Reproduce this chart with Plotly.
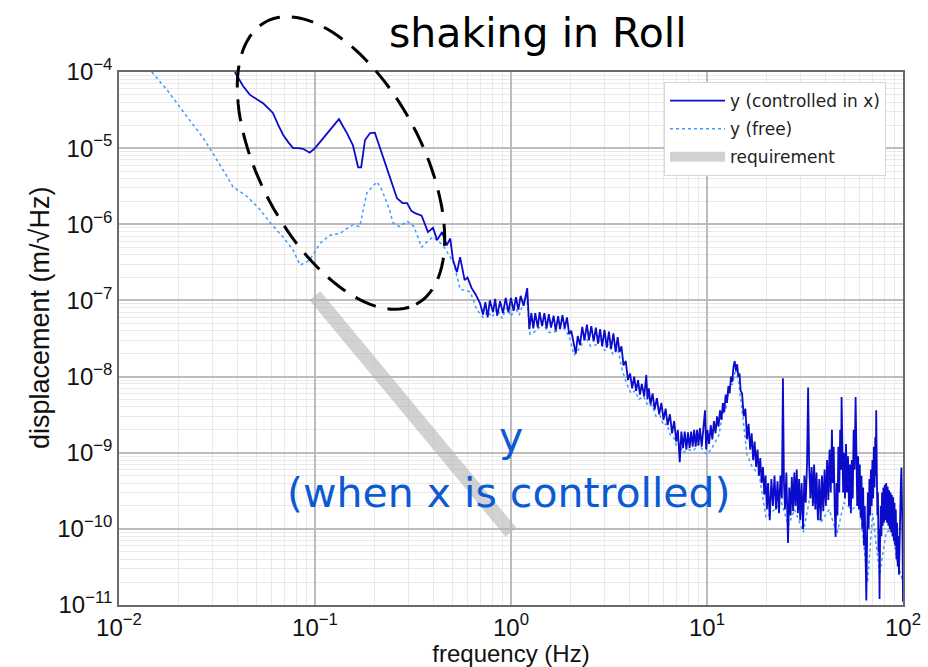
import numpy as np
import plotly.graph_objects as go

# ---- displacement spectra (frequency in Hz, displacement in m/sqrt(Hz)) ----
ctrl_freq = [
    0.039, 0.043, 0.0466, 0.050, 0.0543, 0.058, 0.061, 0.065, 0.0687, 0.073,
    0.0773, 0.082, 0.087, 0.094, 0.100, 0.106, 0.118, 0.1325, 0.145, 0.156,
    0.166, 0.172, 0.18, 0.191, 0.202, 0.215, 0.233, 0.248, 0.262, 0.28,
    0.295, 0.31, 0.324, 0.35, 0.365, 0.377, 0.40, 0.42, 0.445, 0.47,
    0.49, 0.506, 0.53, 0.55, 0.58, 0.60, 0.63, 0.66, 0.695, 0.72,
    0.74, 0.76, 0.78, 0.81, 0.83, 0.85, 0.88, 0.91, 0.94, 0.97,
    1.0, 1.03, 1.06, 1.09, 1.12, 1.16, 1.21, 1.24, 1.27, 1.30,
    1.33, 1.37, 1.40, 1.44, 1.48, 1.52, 1.56, 1.60, 1.65, 1.69,
    1.74, 1.78, 1.83, 1.88, 1.93, 1.98, 2.03, 2.09, 2.14, 2.19,
    2.25, 2.31, 2.37, 2.44, 2.50, 2.57, 2.64, 2.71, 2.78, 2.85,
    2.92, 3.0, 3.08, 3.16, 3.24, 3.33, 3.42, 3.50, 3.58, 3.66,
    3.75, 3.85, 3.95, 4.05, 4.15, 4.25, 4.35, 4.45, 4.55, 4.65,
    4.78, 4.90, 4.97, 5.05, 5.15, 5.28, 5.40, 5.55, 5.70, 5.85,
    6.0, 6.15, 6.3, 6.47, 6.63, 6.80, 6.97, 7.1, 7.26, 7.4,
    7.55, 7.7, 7.85, 8.0, 8.15, 8.3, 8.45, 8.6, 8.75, 8.9,
    9.05, 9.2, 9.4, 9.6, 9.77, 9.9, 10.05, 10.25, 10.45, 10.65,
    10.85, 11.05, 11.25, 11.45, 11.65, 11.85, 12.05, 12.25, 12.45, 12.65,
    12.85, 13.05, 13.25, 13.45, 13.65, 13.85, 14.05, 14.25, 14.45, 14.65,
    14.85, 15.1, 15.4, 15.7, 16.0, 16.3, 16.6, 16.9, 17.2, 17.5,
    17.8, 18.1, 18.4, 18.7, 19.0, 19.3, 19.6, 19.9, 20.2, 20.5,
    20.9, 21.3, 21.7, 22.1, 22.5, 22.9, 23.3, 23.7, 24.1, 24.4,
    24.7, 25.0, 25.4, 25.9, 26.3, 26.7, 27.1, 27.5, 27.9, 28.3,
    28.7, 29.1, 29.5, 29.9, 30.4, 30.9, 31.4, 31.9, 32.4, 32.8,
    33.2, 33.7, 34.2, 34.7, 35.2, 35.7, 36.2, 36.8, 37.4, 38.0,
    38.6, 39.2, 39.8, 40.4, 41.0, 41.6, 42.2, 42.8, 43.4, 43.8,
    44.3, 44.8, 45.3, 45.8, 46.3, 46.8, 47.3, 47.8, 48.3, 48.6,
    49.0, 49.5, 50.0, 50.6, 51.2, 51.8, 52.4, 53.0, 53.6, 54.2,
    54.8, 55.4, 56.0, 56.6, 57.3, 57.8, 58.4, 59.0, 59.6, 60.2,
    60.8, 61.4, 62.0, 62.6, 63.2, 63.8, 64.4, 65.0, 65.6, 66.2,
    66.8, 67.4, 68.0, 68.6, 69.2, 69.8, 70.4, 71.0, 71.6, 72.2,
    72.7, 73.0, 73.5, 74.0, 74.5, 75.0, 75.5, 75.9, 76.4, 77.0,
    77.6, 78.2, 78.8, 79.4, 80.0, 80.7, 81.4, 82.1, 82.8, 83.5,
    84.2, 84.9, 85.6, 86.3, 87.0, 87.7, 88.4, 89.1, 89.8, 90.5,
    91.2, 91.9, 92.6, 93.3, 94.0, 94.7, 95.4, 96.1, 96.8, 97.5,
    98.2, 98.8, 99.4, 100.0,
]
ctrl_disp = [
    1.0e-4, 6.5e-5, 5.0e-5, 4.5e-5, 3.9e-5, 3.3e-5, 2.9e-5, 2.0e-5, 1.5e-5, 1.2e-5,
    1.0e-5, 1.0e-5, 9.8e-6, 8.7e-6, 1.0e-5, 1.2e-5, 1.7e-5, 2.4e-5, 1.6e-5, 1.1e-5,
    5.6e-6, 5.6e-6, 1.28e-5, 1.58e-5, 1.6e-5, 1.0e-5, 5.6e-6, 3.5e-6, 2.2e-6, 1.9e-6,
    1.9e-6, 1.5e-6, 1.4e-6, 1.3e-6, 9.5e-7, 7.9e-7, 9.0e-7, 6.2e-7, 7.9e-7, 5.3e-7,
    6.5e-7, 3.4e-7, 2.35e-7, 3.7e-7, 1.85e-7, 2.0e-7, 1.45e-7, 1.2e-7, 9.2e-8, 6.5e-8,
    9.5e-8, 6.0e-8, 1.0e-7, 7.0e-8, 1.05e-7, 6.3e-8, 9.8e-8, 6.8e-8, 1.08e-7, 7.0e-8,
    1.08e-7, 7.3e-8, 1.1e-7, 7.5e-8, 1.15e-7, 8.5e-8, 1.45e-7, 4.2e-8, 6.8e-8, 4.3e-8,
    6.8e-8, 4.4e-8, 7.0e-8, 4.6e-8, 6.8e-8, 4.3e-8, 6.6e-8, 4.4e-8, 6.3e-8, 4.0e-8,
    6.2e-8, 4.2e-8, 6.4e-8, 4.3e-8, 6.0e-8, 3.6e-8, 4.0e-8, 2.6e-8, 2.0e-8, 3.4e-8,
    2.6e-8, 4.5e-8, 3.0e-8, 4.8e-8, 3.0e-8, 4.6e-8, 2.9e-8, 4.4e-8, 2.7e-8, 4.2e-8,
    2.5e-8, 4.1e-8, 2.4e-8, 3.9e-8, 2.3e-8, 3.7e-8, 2.1e-8, 3.3e-8, 2.1e-8, 2.5e-8,
    1.4e-8, 1.6e-8, 9.0e-9, 1.1e-8, 7.0e-9, 1.0e-8, 6.5e-9, 9.0e-9, 5.8e-9, 8.0e-9,
    5.5e-9, 1.05e-8, 5.0e-9, 7.0e-9, 4.3e-9, 6.0e-9, 3.7e-9, 5.2e-9, 3.2e-9, 4.5e-9,
    2.7e-9, 3.8e-9, 2.3e-9, 3.2e-9, 1.8e-9, 2.6e-9, 1.4e-9, 2.0e-9, 7.5e-10, 1.9e-9,
    1.15e-9, 1.9e-9, 1.1e-9, 1.85e-9, 1.15e-9, 1.9e-9, 1.2e-9, 2.0e-9, 1.2e-9, 2.0e-9,
    1.25e-9, 2.1e-9, 1.2e-9, 2.2e-9, 3.6e-9, 1.1e-9, 2.0e-9, 1.3e-9, 2.3e-9, 1.5e-9,
    2.6e-9, 1.8e-9, 3.0e-9, 2.2e-9, 3.6e-9, 2.7e-9, 4.5e-9, 3.4e-9, 5.8e-9, 4.5e-9,
    7.5e-9, 6.0e-9, 1.0e-8, 8.5e-9, 1.35e-8, 1.6e-8, 1.2e-8, 1.45e-8, 1.0e-8, 1.1e-8,
    6.5e-9, 6.0e-9, 3.0e-9, 3.8e-9, 1.5e-9, 2.4e-9, 1.1e-9, 1.8e-9, 8.0e-10, 1.4e-9,
    6.5e-10, 1.1e-9, 5.0e-10, 8.5e-10, 4.0e-10, 6.5e-10, 2.8e-10, 5.0e-10, 1.8e-10, 4.0e-10,
    1.3e-10, 4.5e-10, 2.0e-10, 5.0e-10, 1.8e-10, 4.2e-10, 1.6e-10, 5.0e-10, 2.5e-10, 9.5e-9,
    4.0e-10, 1.8e-10, 5.5e-10, 6.5e-11, 3.5e-10, 1.5e-10, 4.8e-10, 1.7e-10, 5.5e-10, 2.0e-10,
    6.0e-10, 1.6e-10, 4.5e-10, 1.3e-10, 4.0e-10, 1.0e-10, 5.0e-10, 2.2e-10, 7.5e-10, 7.2e-9,
    7.0e-10, 2.5e-10, 6.5e-10, 2.0e-10, 7.0e-10, 1.8e-10, 5.5e-10, 1.3e-10, 4.5e-10, 1.3e-10,
    5.0e-10, 1.7e-10, 6.0e-10, 2.0e-10, 8.0e-10, 2.4e-10, 1.1e-9, 3.0e-10, 2.0e-9, 4.0e-10,
    1.2e-9, 2.0e-10, 7.8e-11, 4.0e-10, 1.5e-10, 1.2e-9, 3.0e-10, 2.0e-9, 6.0e-10, 5.4e-9,
    1.5e-9, 3.0e-10, 1.0e-9, 2.5e-10, 1.3e-9, 3.0e-10, 9.0e-10, 2.0e-10, 7.0e-10, 1.6e-10,
    8.0e-10, 2.5e-10, 2.0e-9, 6.0e-10, 5.4e-9, 8.0e-10, 2.0e-10, 9.0e-10, 1.8e-10, 7.0e-10,
    1.4e-10, 5.0e-10, 1.0e-10, 3.5e-10, 6.0e-11, 2.0e-10, 3.0e-11, 1.15e-11, 8.0e-11, 3.0e-10,
    1.0e-10, 4.5e-10, 1.5e-10, 6.0e-10, 2.0e-10, 8.0e-10, 2.5e-10, 1.2e-9, 3.5e-10, 1.6e-9,
    5.0e-10, 3.6e-9, 6.0e-10, 1.5e-10, 3.0e-10, 5.0e-11, 1.0e-10, 1.2e-11, 7.0e-11, 2.0e-10,
    8.0e-11, 3.0e-10, 1.1e-10, 3.5e-10, 1.2e-10, 3.8e-10, 1.3e-10, 4.0e-10, 1.2e-10, 3.6e-10,
    1.1e-10, 3.2e-10, 1.0e-10, 3.0e-10, 9.0e-11, 2.8e-10, 8.0e-11, 2.6e-10, 7.0e-11, 2.2e-10,
    6.0e-11, 1.8e-10, 4.0e-11, 1.2e-10, 3.2e-11, 8.0e-11, 2.5e-11, 1.0e-10, 2.5e-10, 4.0e-10,
    6.4e-10, 3.0e-10, 8.0e-11, 1.1e-11,
]

free_freq = [
    0.0147, 0.0176, 0.0222, 0.0269, 0.0328, 0.0382, 0.0452, 0.0525, 0.059, 0.0687,
    0.0773, 0.084, 0.094, 0.106, 0.119, 0.134, 0.156, 0.169, 0.184, 0.207,
    0.22, 0.24, 0.25, 0.27, 0.295, 0.32, 0.35, 0.37, 0.40, 0.45,
    0.51, 0.55, 0.62, 0.67, 0.72, 0.76, 0.8, 0.85, 0.9, 0.95,
    1.0, 1.05, 1.1, 1.2, 1.25, 1.35, 1.45, 1.55, 1.7, 1.8,
    1.9, 2.0, 2.1, 2.25, 2.4, 2.55, 2.7, 2.85, 3.0, 3.15,
    3.3, 3.5, 3.7, 3.9, 4.1, 4.3, 4.5, 4.75, 5.0, 5.25,
    5.5, 5.75, 6.0, 6.25, 6.5, 6.75, 7.0, 7.25, 7.5, 8.0,
    8.5, 9.0, 9.5, 10.0, 10.5, 11.0, 11.5, 12.0, 12.5, 13.0,
    13.5, 14.0, 14.5, 15.0, 16.0, 17.0, 18.5, 20.0, 22.0, 24.0,
    26.0, 28.0, 31.0, 34.0, 38.0, 42.0, 46.0, 50.0, 55.0, 60.0,
    66.0, 70.0, 76.0, 82.0, 88.0, 94.0, 100.0,
]
free_disp = [
    1.0e-4, 5.8e-5, 2.6e-5, 1.36e-5, 6.0e-6, 3.1e-6, 2.3e-6, 1.55e-6, 1.05e-6, 6.8e-7,
    4.6e-7, 2.9e-7, 3.4e-7, 5.6e-7, 7.2e-7, 7.6e-7, 9.8e-7, 9.3e-7, 2.6e-6, 3.6e-6,
    2.8e-6, 1.55e-6, 1.05e-6, 9.3e-7, 1.1e-6, 9.3e-7, 5.0e-7, 5.8e-7, 6.8e-7, 5.3e-7,
    3.1e-7, 1.4e-7, 1.3e-7, 7.5e-8, 6.0e-8, 7.2e-8, 6.0e-8, 7.8e-8, 5.8e-8, 8.0e-8,
    6.2e-8, 8.2e-8, 6.4e-8, 1.2e-7, 3.6e-8, 4.0e-8, 5.0e-8, 3.8e-8, 3.9e-8, 4.6e-8,
    4.1e-8, 3.1e-8, 1.9e-8, 2.4e-8, 3.3e-8, 2.5e-8, 2.6e-8, 3.0e-8, 2.2e-8, 2.7e-8,
    2.0e-8, 2.4e-8, 1.2e-8, 8.0e-9, 6.0e-9, 6.5e-9, 5.0e-9, 5.5e-9, 4.1e-9, 4.2e-9,
    3.0e-9, 3.1e-9, 2.3e-9, 2.4e-9, 1.7e-9, 1.6e-9, 1.2e-9, 1.3e-9, 1.0e-9, 1.1e-9,
    1.05e-9, 1.3e-9, 1.1e-9, 9.5e-10, 1.1e-9, 1.4e-9, 1.7e-9, 3.2e-9, 3.8e-9, 7.5e-9,
    8.0e-9, 1.25e-8, 8.5e-9, 4.2e-9, 9.5e-10, 6.5e-10, 5.0e-10, 1.4e-10, 1.8e-10, 2.2e-10,
    1.1e-10, 1.8e-10, 9.0e-11, 3.2e-10, 1.2e-10, 1.8e-10, 8.5e-11, 2.2e-10, 1.8e-10, 2.2e-10,
    2.0e-11, 1.6e-10, 2.5e-11, 9.0e-11, 1.0e-10, 3.5e-11, 2.0e-11,
]

req_freq = [0.1, 1.0]
req_disp = [1.15e-7, 9.0e-11]

# ---- tick labels ----
x_tickvals = [1e-2, 1e-1, 1e0, 1e1, 1e2]
x_ticktext = ["10<sup>−2</sup>", "10<sup>−1</sup>", "10<sup>0</sup>",
              "10<sup>1</sup>", "10<sup>2</sup>"]
y_tickvals = [1e-11, 1e-10, 1e-9, 1e-8, 1e-7, 1e-6, 1e-5, 1e-4]
y_ticktext = ["10<sup>−11</sup>", "10<sup>−10</sup>", "10<sup>−9</sup>",
              "10<sup>−8</sup>", "10<sup>−7</sup>", "10<sup>−6</sup>",
              "10<sup>−5</sup>", "10<sup>−4</sup>"]

# ---- figure geometry ----
W, H = 928, 667
ML, MR, MT, MB = 119, 25, 72, 62
PW, PH = W - ML - MR, H - MT - MB


def to_paper(px, py):
    return (px - ML) / PW, (H - MB - py) / PH


fig = go.Figure()

fig.add_trace(go.Scatter(
    x=req_freq, y=req_disp, mode="lines", name="requirement",
    line=dict(color="rgba(180,180,180,0.6)", width=14),
    legendgroup="req", legendrank=3,
))
fig.add_trace(go.Scatter(
    x=free_freq, y=free_disp, mode="lines", name="y (free)",
    line=dict(color="#3f9cff", width=1.5, dash="dot"),
    legendgroup="free", legendrank=2,
))
fig.add_trace(go.Scatter(
    x=ctrl_freq, y=ctrl_disp, mode="lines", name="y (controlled in x)",
    line=dict(color="#0b0bcc", width=1.8),
    legendgroup="ctrl", legendrank=1,
))

# dashed ellipse around the roll resonance
cx, cy, a, b, ang = 341, 163, 160, 81, np.radians(28)
t = np.linspace(0, 2 * np.pi, 121)
ex = cx + a * np.cos(t) * np.sin(ang) + b * np.sin(t) * np.cos(ang)
ey = cy + a * np.cos(t) * np.cos(ang) - b * np.sin(t) * np.sin(ang)
pts = [to_paper(px, py) for px, py in zip(ex, ey)]
path = "M " + " L ".join(f"{u:.4f},{v:.4f}" for u, v in pts) + " Z"
fig.add_shape(type="path", path=path, xref="paper", yref="paper", layer="above",
              line=dict(color="black", width=3, dash="22px,12px"))

note_font = dict(family="DejaVu Sans", size=41)
fig.add_annotation(text="shaking in Roll", xref="paper", yref="paper",
                   x=to_paper(538, 0)[0], y=to_paper(0, 33)[1],
                   xanchor="center", yanchor="middle", showarrow=False,
                   font=dict(note_font, color="black"))
fig.add_annotation(text="y", xref="paper", yref="paper",
                   x=to_paper(511, 0)[0], y=to_paper(0, 437)[1],
                   xanchor="center", yanchor="middle", showarrow=False,
                   font=dict(note_font, color="#0b5ad4"))
fig.add_annotation(text="(when x is controlled)", xref="paper", yref="paper",
                   x=to_paper(509, 0)[0], y=to_paper(0, 493)[1],
                   xanchor="center", yanchor="middle", showarrow=False,
                   font=dict(note_font, color="#0b5ad4"))

# vertical axis title, placed as rotated text beside the tick labels
fig.add_annotation(text="displacement (m/√Hz)", xref="paper", yref="paper",
                   x=to_paper(40, 0)[0], y=to_paper(0, 318)[1],
                   xanchor="center", yanchor="middle", textangle=-90,
                   showarrow=False,
                   font=dict(family="Liberation Sans", size=27, color="#111"))

axis_common = dict(
    type="log", tickmode="array",
    showgrid=True, gridcolor="#bcbcbc", gridwidth=1.5,
    minor=dict(dtick="D1", showgrid=True, gridcolor="#e9e9e9", gridwidth=1),
    showline=True, mirror=True, linecolor="#6a6a6a", linewidth=1.5,
    ticks="", zeroline=False, automargin=False,
    tickfont=dict(family="Liberation Sans", size=24, color="#111"),
)

fig.update_layout(
    width=W, height=H,
    margin=dict(l=ML, r=MR, t=MT, b=MB),
    paper_bgcolor="white", plot_bgcolor="white",
    font=dict(family="Liberation Sans", color="#111"),
    xaxis=dict(axis_common, range=[-2, 2],
               tickvals=x_tickvals, ticktext=x_ticktext,
               title=dict(text="frequency (Hz)", standoff=0,
                          font=dict(family="Liberation Sans", size=24))),
    yaxis=dict(axis_common, range=[-11, -4],
               tickvals=y_tickvals, ticktext=y_ticktext),
    legend=dict(x=to_paper(664, 0)[0], y=to_paper(0, 82)[1],
                xanchor="left", yanchor="top",
                bgcolor="white", bordercolor="#d8d8d8", borderwidth=1,
                tracegroupgap=3, itemwidth=55,
                font=dict(family="DejaVu Sans", size=17, color="#222")),
    showlegend=True,
)

fig.write_html("out.html")
